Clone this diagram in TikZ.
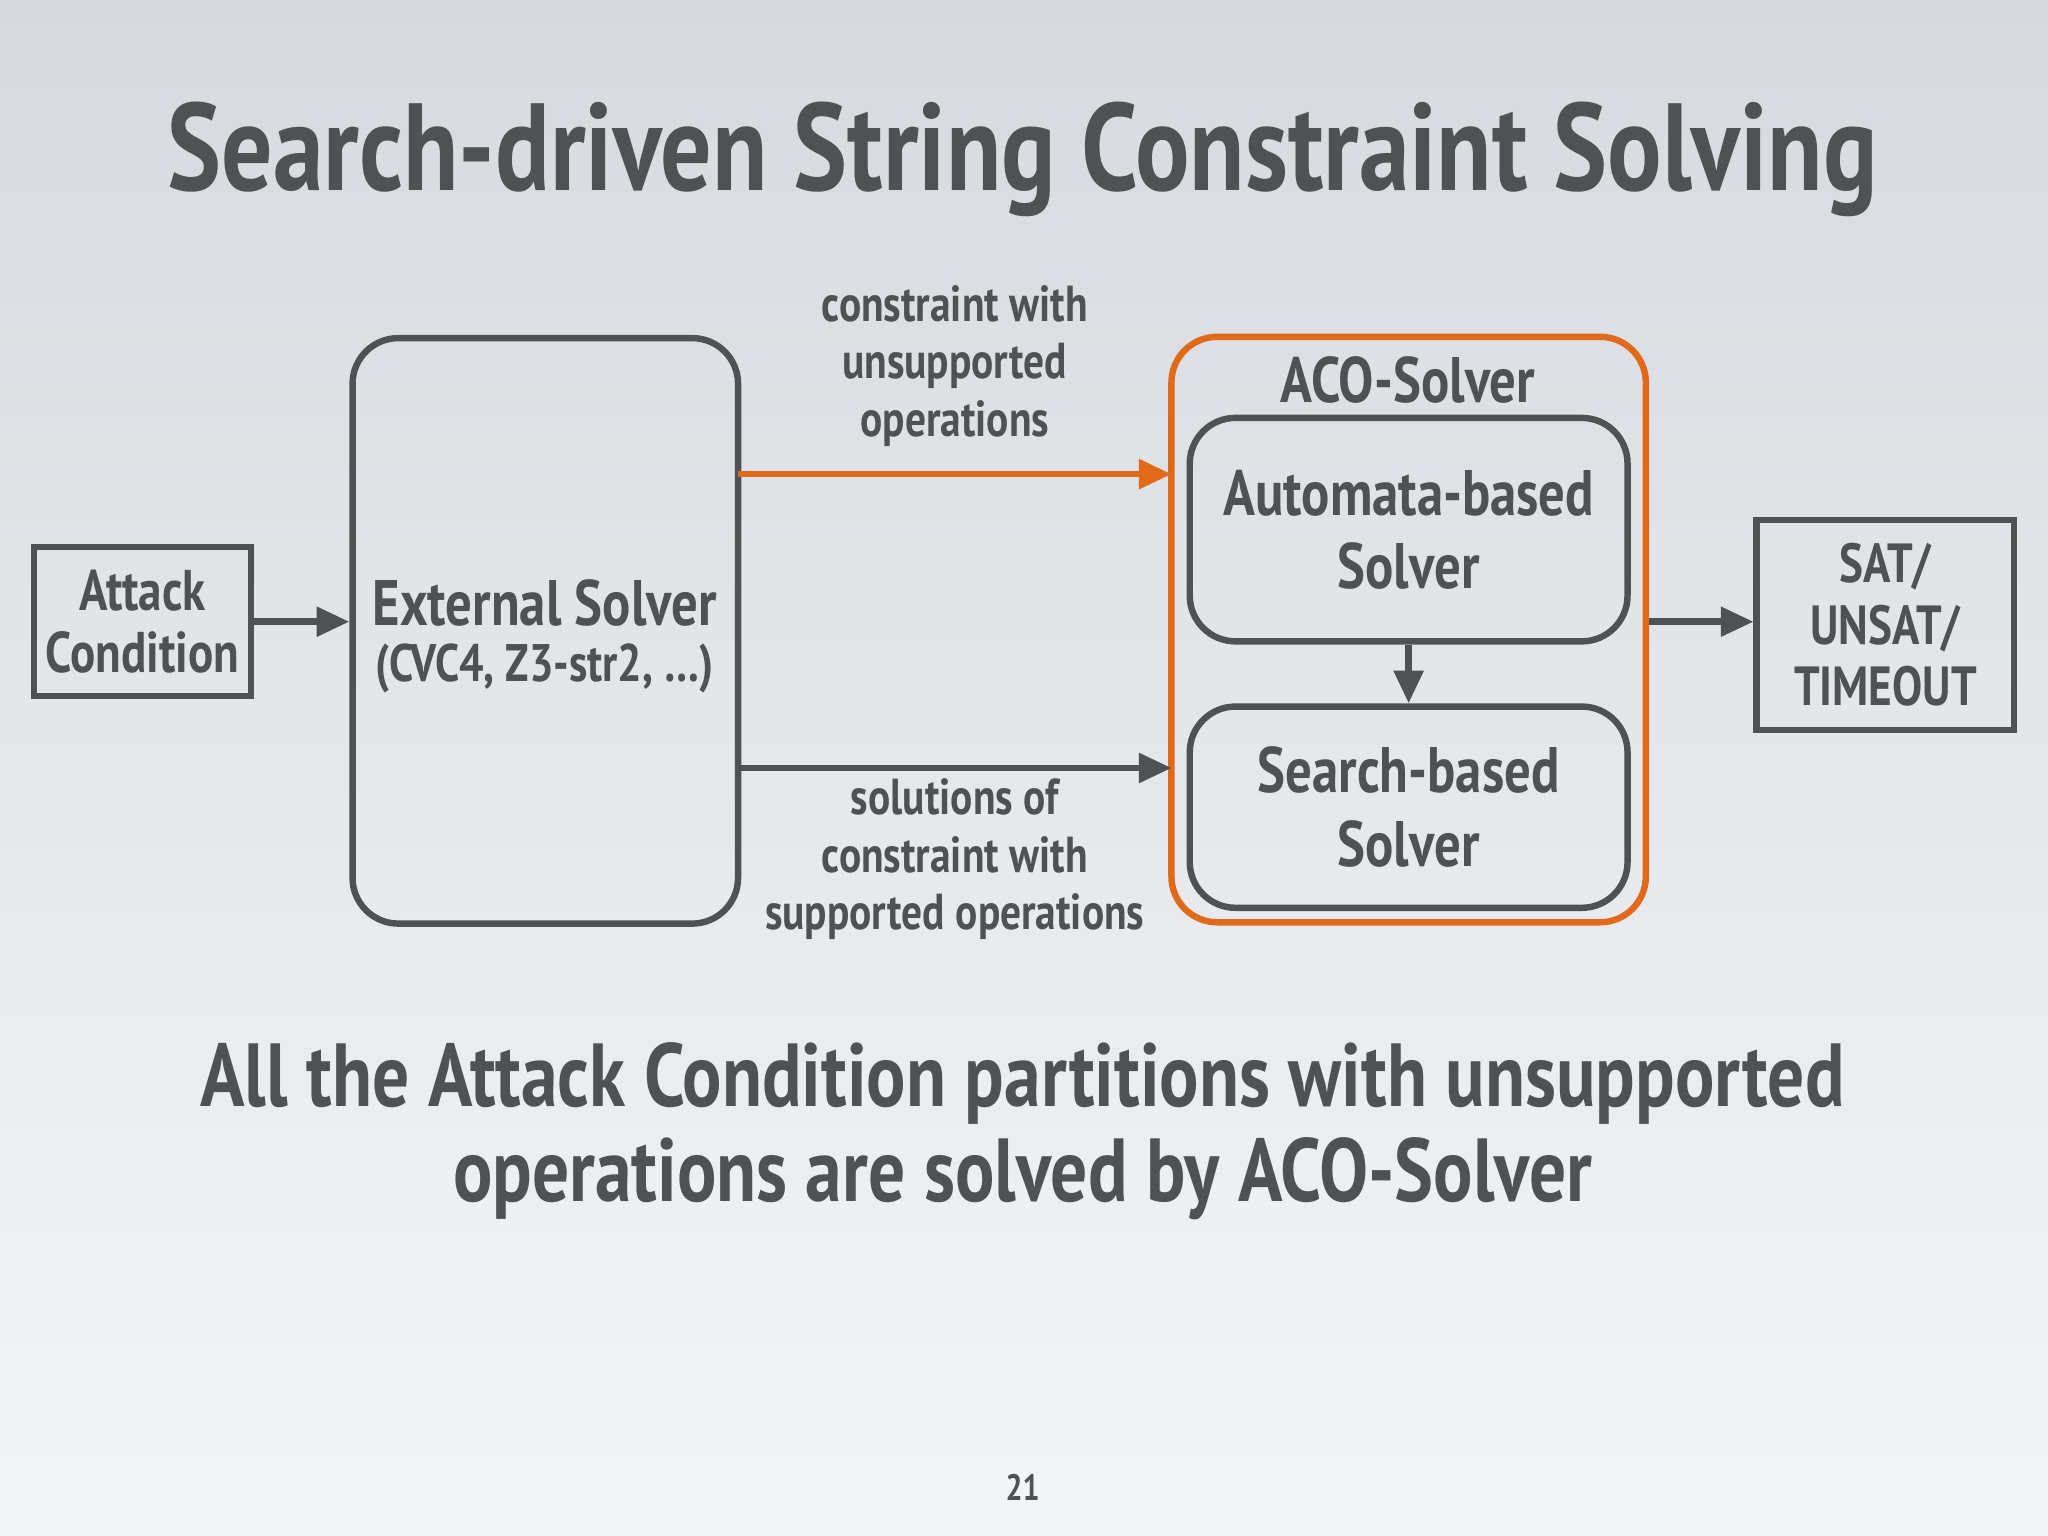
\documentclass[tikz,border=0pt]{standalone}
\usepackage{fontspec}
\setmainfont[FakeStretch=0.82]{PT Sans}
\usetikzlibrary{arrows.meta}
\definecolor{txt}{HTML}{505154}
\definecolor{org}{HTML}{E0691A}
\tikzset{
 box/.style={draw=txt,line width=1.4pt,inner sep=0pt},
 rbox/.style={box,rounded corners=0.35cm},
 arr/.style={draw=txt,line width=1.4pt,-{Triangle[length=0.25cm,width=0.22cm]}},
 lbl/.style={text=txt,font=\bfseries\fontsize{11}{12.5}\selectfont,align=center},
}
\begin{document}
\begin{tikzpicture}[x=0.01cm,y=-0.01cm]
\shade[top color={rgb,255:red,214;green,217;blue,222},bottom color={rgb,255:red,244;green,245;blue,247}] (0,0) rectangle (1568,1176);
\useasboundingbox (0,0) rectangle (1568,1176);
\node[text=txt,font=\bfseries\fontsize{27}{32}\selectfont] (title) at (783,122) {Search-driven String Constraint Solving};
\node[box,minimum width=1.66cm,minimum height=1.14cm] (ac) at (109,476) {};
\node[lbl,font=\bfseries\fontsize{12.5}{13.5}\selectfont] at (ac) {Attack\\Condition};
\node[rbox,minimum width=2.95cm,minimum height=4.48cm] (ext) at (417.5,483) {};
\node[lbl,font=\bfseries\fontsize{14}{17}\selectfont] (extt) at (417,462) {External Solver};
\node[lbl,font=\bfseries\fontsize{11.5}{14}\selectfont] at (417,512) {(CVC4, Z3-str2, \ldots)};
\node[rbox,draw=org,minimum width=3.63cm,minimum height=4.48cm] (aco) at (1078.5,482) {};
\node[lbl,font=\bfseries\fontsize{14}{17}\selectfont] at (1078,291) {ACO-Solver};
\node[rbox,minimum width=3.35cm,minimum height=1.71cm] (auto) at (1078.5,405.5) {};
\node[lbl,font=\bfseries\fontsize{14}{16}\selectfont] at (auto) {Automata-based\\Solver};
\node[rbox,minimum width=3.35cm,minimum height=1.54cm] (srch) at (1078.5,618) {};
\node[lbl,font=\bfseries\fontsize{14}{16}\selectfont] at (srch) {Search-based\\Solver};
\node[box,minimum width=1.97cm,minimum height=1.61cm] (sat) at (1443.5,478.5) {};
\node[lbl,font=\bfseries\fontsize{12}{13.4}\selectfont] at (sat) {SAT/\\UNSAT/\\TIMEOUT};
\draw[arr] (ac.east) -- (ext.west|-ac.east);
\coordinate (o1) at (565,363); \coordinate (o2) at (897,363);
\draw[arr,draw=org,-{Triangle[length=0.25cm,width=0.22cm,fill=org]}] (o1) -- (o2);
\coordinate (g1) at (565,588); \coordinate (g2) at (897,588);
\draw[arr] (g1) -- (g2);
\draw[arr] (auto.south) -- (srch.north);
\draw[arr] (aco.east|-ac.east) -- (sat.west|-ac.east);
\node[lbl] at (731,280) {constraint with\\unsupported\\operations};
\node[lbl] at (731,658) {solutions of\\constraint with\\supported operations};
\node[lbl,font=\bfseries\fontsize{19.5}{20.8}\selectfont] at (783,866) {All the Attack Condition partitions with unsupported\\operations are solved by ACO-Solver};
\node[lbl,font=\bfseries\fontsize{8}{10}\selectfont] at (783,1139) {21};
\end{tikzpicture}
\end{document}
